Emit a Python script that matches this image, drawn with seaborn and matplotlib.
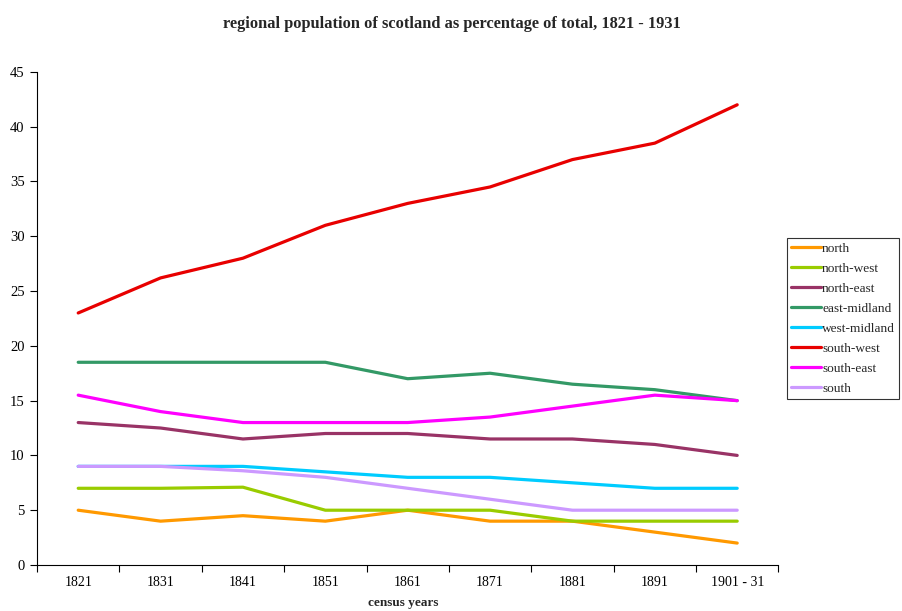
import matplotlib
matplotlib.use("Agg")
import matplotlib.pyplot as plt
import seaborn as sns
import pandas as pd
import numpy as np

years = ["1821", "1831", "1841", "1851", "1861", "1871", "1881", "1891", "1901 - 31"]
north = [5, 4, 4.5, 4, 5, 4, 4, 3, 2]
north_west = [7, 7, 7.1, 5, 5, 5, 4, 4, 4]
north_east = [13, 12.5, 11.5, 12, 12, 11.5, 11.5, 11, 10]
east_midland = [18.5, 18.5, 18.5, 18.5, 17, 17.5, 16.5, 16, 15]
west_midland = [9, 9, 9, 8.5, 8, 8, 7.5, 7, 7]
south_west = [23, 26.2, 28, 31, 33, 34.5, 37, 38.5, 42]
south_east = [15.5, 14, 13, 13, 13, 13.5, 14.5, 15.5, 15]
south = [9, 9, 8.6, 8, 7, 6, 5, 5, 5]

series = {
    "north": north, "north-west": north_west, "north-east": north_east,
    "east-midland": east_midland, "west-midland": west_midland,
    "south-west": south_west, "south-east": south_east, "south": south,
}
colors = {
    "north": "#FF9900", "north-west": "#99CC00", "north-east": "#993366",
    "east-midland": "#339966", "west-midland": "#00CCFF", "south-west": "#E80000",
    "south-east": "#FF00FF", "south": "#CC99FF",
}

rows = []
for name, vals in series.items():
    for i, v in enumerate(vals):
        rows.append({"pos": i, "year": years[i], "region": name, "value": v})
df = pd.DataFrame(rows)

sns.set_style("ticks")
plt.rcParams["font.family"] = ["Liberation Serif", "DejaVu Serif"]

fig = plt.figure(figsize=(9.03, 6.11), dpi=100)
ax = fig.add_axes([0.041, 0.0753, 0.821, 0.807])

sns.lineplot(data=df, x="pos", y="value", hue="region", palette=colors,
             hue_order=list(series.keys()), linewidth=2.3, ax=ax, legend=True)

ax.set_xlim(-0.5, 8.5)
ax.set_ylim(0, 45)
ax.set_yticks(np.arange(0, 46, 5))
ax.set_xticks(np.arange(-0.5, 8.6, 1))
ax.set_xticklabels([])
ax.set_xticks(np.arange(0, 9), minor=True)
ax.set_xticklabels(years, minor=True)
ax.tick_params(axis="x", which="minor", length=0, pad=8, labelsize=10, colors="black")
ax.tick_params(axis="x", which="major", length=5, direction="out", width=0.8, color="black")
ax.tick_params(axis="y", length=5, direction="out", width=0.8, labelsize=10.5, color="black",
               labelcolor="black", pad=4)
for s in ["top", "right"]:
    ax.spines[s].set_visible(False)
for s in ["left", "bottom"]:
    ax.spines[s].set_color("black")
    ax.spines[s].set_linewidth(0.8)

ax.set_xlabel("")
ax.set_ylabel("")
fig.text(0.447, 0.003, "census years", fontsize=9.5, fontweight="bold",
         ha="center", va="bottom")
fig.suptitle("regional population of scotland as percentage of total, 1821 - 1931",
             fontsize=11.8, fontweight="bold", y=0.974)

leg = ax.legend(loc="upper left", bbox_to_anchor=(1.0118, 0.663), fontsize=9.6,
                frameon=True, fancybox=False, edgecolor="black", handlelength=2.2,
                handletextpad=0.1, labelspacing=0.58, borderpad=0.32, borderaxespad=0)
leg.get_frame().set_linewidth(0.8)
for line in leg.get_lines():
    line.set_linewidth(2.3)

fig.savefig("out.png", dpi=100)
